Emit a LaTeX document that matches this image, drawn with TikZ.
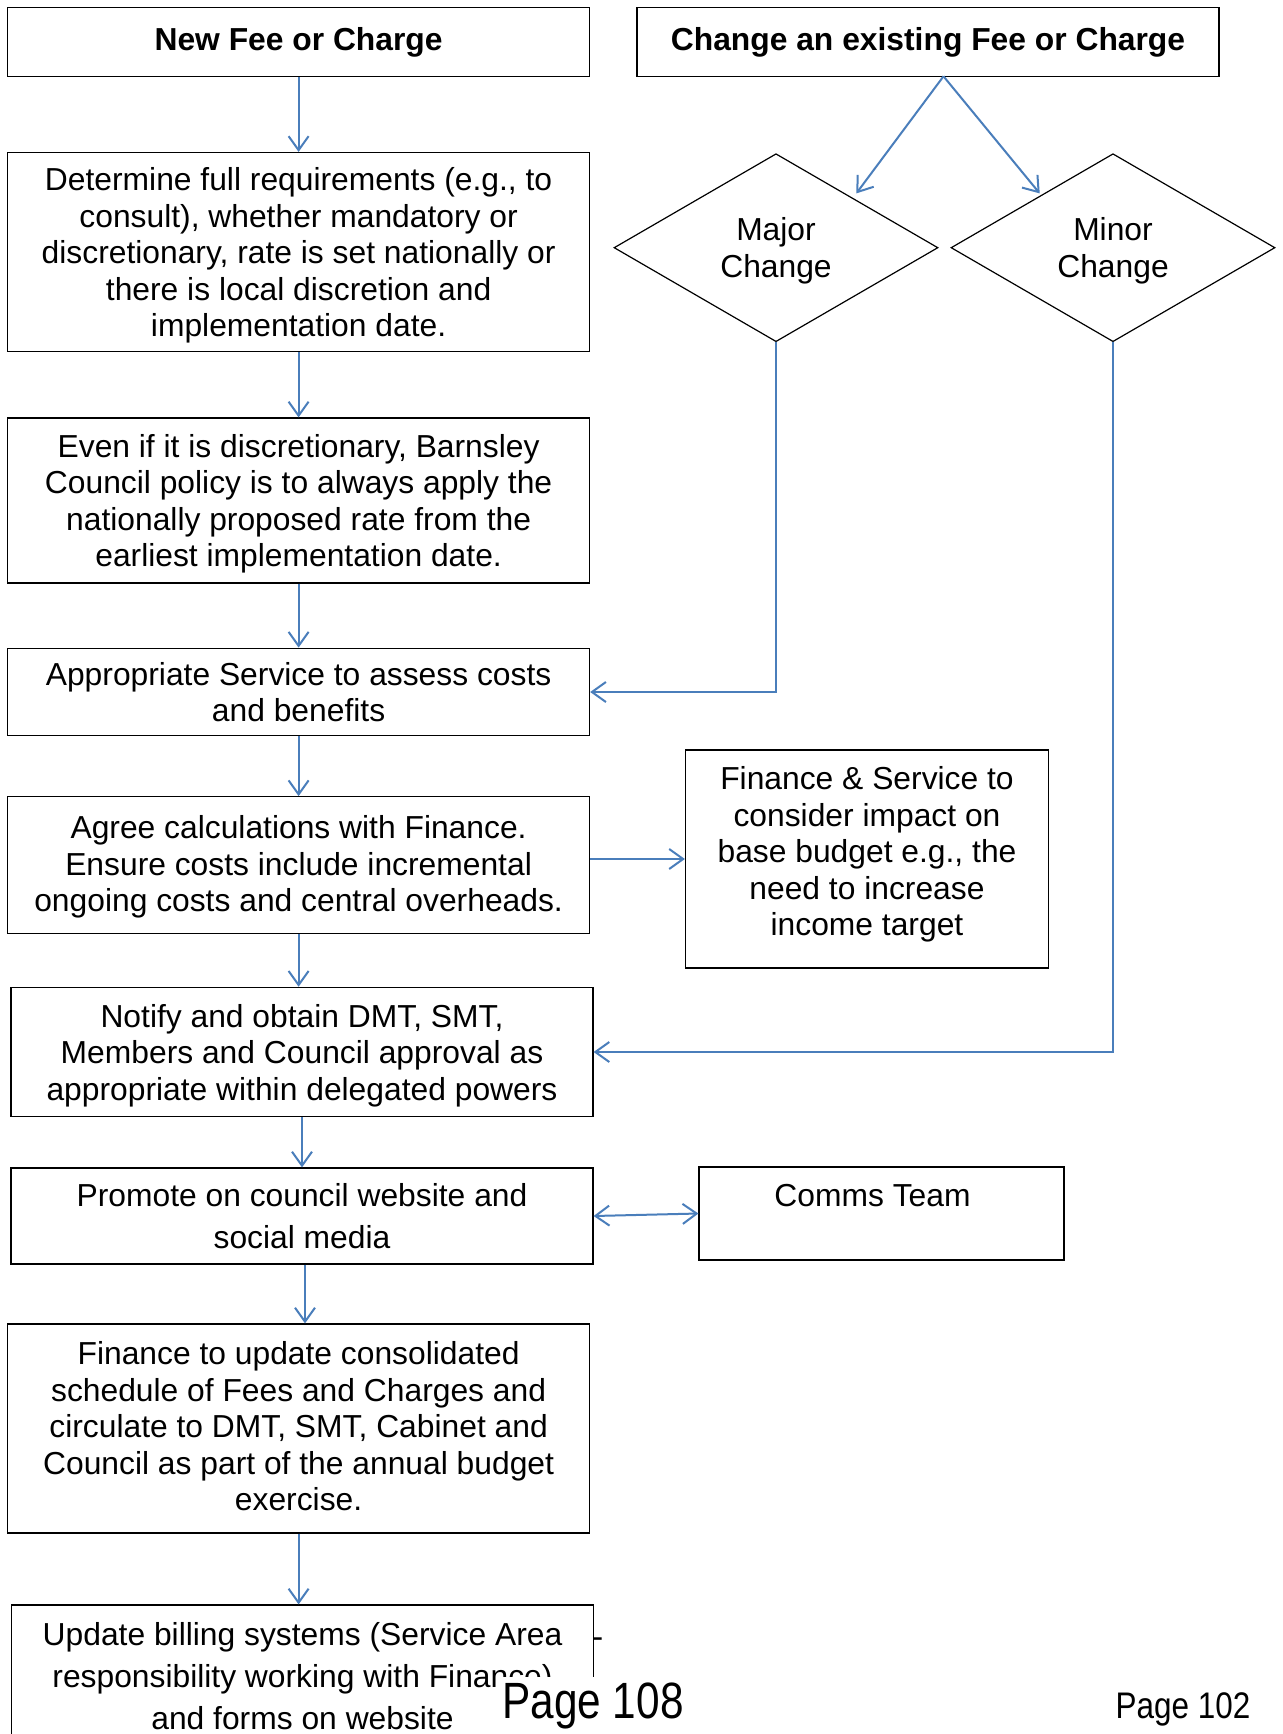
\documentclass[tikz,border=0pt]{standalone}
\usepackage{fontspec}
\setmainfont{Liberation Sans}
\usetikzlibrary{shapes.geometric,arrows.meta,positioning,calc}
\definecolor{flowblue}{HTML}{4A7EBB}

\begin{document}
\begin{tikzpicture}
                    [x=0.5pt,y=-0.5pt,>={Straight Barb[length=7pt,width=10pt]},
                     box/.style={draw,line width=0.6pt,inner sep=0pt,align=center,minimum width=291pt,font=\fontsize{15.9}{18.25}\selectfont},
                     widebox/.style={box,font=\fontsize{15.9}{21}\selectfont},
                     title/.style={box,font=\fontsize{15.9}{18.25}\selectfont\bfseries},
                     choice/.style={draw,diamond,line width=0.6pt,inner sep=0pt,align=center,minimum width=162pt,minimum height=94pt,font=\fontsize{15.9}{18.25}\selectfont},
                     textdown/.style={text depth=#1},
                     textup/.style={execute at end node={\rule[-#1]{0pt}{0pt}}},
                     flow/.style={->,draw=flowblue,line width=1pt},
                     page/.style={inner sep=0pt}]

                        \clip (0,0) rectangle (1283,1734);
                        \fill[white] (0,0) rectangle (1283,1734);

                        \node[title,minimum height=34.3pt] (new) at (298.6,42) {New Fee or Charge};
                        \node[title,minimum height=34.3pt] (change) at (928,42) {Change an existing Fee or Charge};
                        \coordinate (split) at (943.5,76.3);

                        \node[choice,textdown=-0.7pt] (major) at (776,247.7) {Major\\Change};
                        \node[choice,textdown=-0.7pt] (minor) at (1113,247.7) {Minor\\Change};

                        \node[box,minimum height=99.5pt,textdown=-5.5pt] (require) at (298.6,252) {Determine full requirements (e.g., to\\consult), whether mandatory or\\discretionary, rate is set nationally or\\there is local discretion and\\implementation date.};
                        \node[box,minimum height=82.5pt,textdown=-4.4pt] (policy) at (298.6,500.5) {Even if it is discretionary, Barnsley\\Council policy is to always apply the\\nationally proposed rate from the\\earliest implementation date.};
                        \node[box,minimum height=43.8pt,textdown=-6.6pt] (assess) at (298.6,692) {Appropriate Service to assess costs\\and benefits};
                        \node[box,minimum height=68.3pt,textdown=1.1pt] (agree) at (298.6,865) {Agree calculations with Finance.\\Ensure costs include incremental\\ongoing costs and central overheads.};
                        \node[box,minimum width=181.5pt,minimum height=109pt,textup=7.7pt] (impact) at (867,859) {Finance \& Service to\\consider impact on\\base budget e.g., the\\need to increase\\income target};
                        \node[box,minimum height=64.7pt,textdown=-1.1pt] (notify) at (302,1052) {Notify and obtain DMT, SMT,\\Members and Council approval as\\appropriate within delegated powers};
                        \node[widebox,minimum height=48pt,textdown=-3.3pt] (promote) at (302,1216) {Promote on council website and\\social media};
                        \node[box,minimum width=182.5pt,minimum height=46.5pt] (comms) at (881.5,1213.5) {Comms Team\hspace*{9pt}\\~};
                        \node[box,minimum height=104.5pt,textup=2.2pt] (schedule) at (298.6,1428.5) {Finance to update consolidated\\schedule of Fees and Charges and\\circulate to DMT, SMT, Cabinet and\\Council as part of the annual budget\\exercise.};
                        \node[widebox,minimum height=71.5pt] (billing) at (302.5,1676.5) {Update billing systems (Service Area\\responsibility working with Finance)\\and forms on website};
                        \node[page,font=\fontsize{15.9}{18.25}\selectfont] (dash) at (598,1643) {-};

                        \draw[flow] (new) -- (require);
                        \draw[flow] (require) -- (policy);
                        \draw[flow] (policy) -- (assess);
                        \draw[flow] (assess) -- (agree);
                        \draw[flow] (agree.south) -- (notify.north -| agree.south);
                        \draw[flow] (notify) -- (promote);
                        \draw[flow] (promote.south -| 305,0) -- (schedule.north -| 305,0);
                        \draw[flow] (schedule) -- (billing.north -| schedule.south);

                        \draw[flow] (split) -- ([shift={(-1,-7)}]major.north east);
                        \draw[flow] (split) -- ([shift={(8,-7)}]minor.north west);
                        \draw[flow] (major.south) |- (assess.east);
                        \draw[flow] (minor.south) |- (notify.east);
                        \draw[flow] (agree.east |- impact.west) -- (impact.west);
                        \draw[flow,<->] (promote.east) -- (comms.west);

                        \node[page,fill=white,inner sep=3pt,font=\fontsize{25.5}{28}\selectfont] (page1) at (593,1706) {\scalebox{0.83}[1]{Page 108}};
                        \node[page,font=\fontsize{18.5}{21}\selectfont] (page2) at (1183,1709) {\scalebox{0.85}[1]{Page 102}};

                \end{tikzpicture}
\end{document}
